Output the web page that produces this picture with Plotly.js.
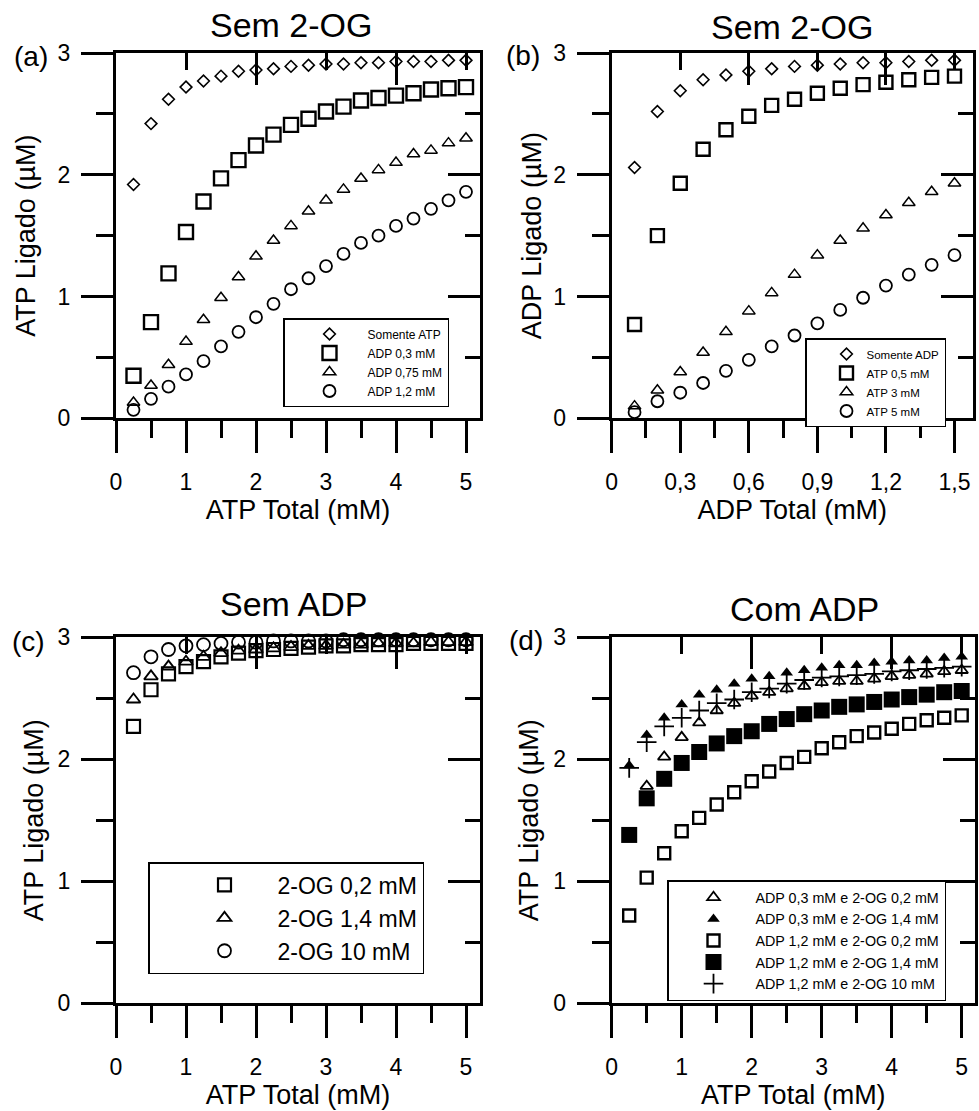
<!DOCTYPE html>
<html>
<head>
<meta charset="utf-8">
<script src="https://cdn.plot.ly/plotly-3.0.1.min.js"></script>
<style>html,body{margin:0;padding:0;background:#fff;}#chart{width:979px;height:1111px;}</style>
</head>
<body>
<div id="chart"></div>
<script>
// ---------- data ----------
const xATP = [0.25,0.5,0.75,1,1.25,1.5,1.75,2,2.25,2.5,2.75,3,3.25,3.5,3.75,4,4.25,4.5,4.75,5];
const xADP = [0.1,0.2,0.3,0.4,0.5,0.6,0.7,0.8,0.9,1.0,1.1,1.2,1.3,1.4,1.5];

// (a) Sem 2-OG : ATP ligado vs ATP total
const aNames = ["Somente ATP","ADP 0,3 mM","ADP 0,75 mM","ADP 1,2 mM"];
const aSomenteATP = [1.92,2.42,2.62,2.72,2.77,2.81,2.85,2.86,2.87,2.89,2.90,2.91,2.91,2.92,2.92,2.93,2.93,2.93,2.94,2.94];
const aADP03  = [0.35,0.79,1.19,1.53,1.78,1.97,2.12,2.24,2.33,2.41,2.46,2.52,2.56,2.61,2.63,2.65,2.67,2.70,2.71,2.72];
const aADP075 = [0.13,0.27,0.44,0.63,0.81,0.99,1.16,1.33,1.46,1.58,1.70,1.79,1.88,1.97,2.04,2.10,2.17,2.20,2.26,2.30];
const aADP12  = [0.07,0.16,0.26,0.36,0.47,0.59,0.71,0.83,0.94,1.06,1.15,1.25,1.35,1.44,1.50,1.58,1.64,1.72,1.79,1.86];

// (b) Sem 2-OG : ADP ligado vs ADP total
const bNames = ["Somente ADP","ATP 0,5 mM","ATP 3 mM","ATP 5 mM"];
const bSomenteADP = [2.06,2.52,2.69,2.78,2.82,2.85,2.87,2.89,2.90,2.91,2.92,2.92,2.93,2.94,2.94];
const bATP05 = [0.77,1.50,1.93,2.21,2.37,2.48,2.57,2.62,2.67,2.71,2.74,2.76,2.78,2.80,2.81];
const bATP3  = [0.10,0.23,0.38,0.54,0.71,0.88,1.03,1.18,1.34,1.46,1.56,1.67,1.77,1.86,1.93];
const bATP5  = [0.05,0.14,0.21,0.29,0.39,0.48,0.59,0.68,0.78,0.89,0.99,1.09,1.18,1.26,1.34];

// (c) Sem ADP
const cNames = ["2-OG 0,2 mM","2-OG 1,4 mM","2-OG 10 mM"];
const c2OG02 = [2.27,2.57,2.70,2.76,2.80,2.84,2.87,2.89,2.90,2.91,2.92,2.93,2.93,2.94,2.94,2.94,2.95,2.95,2.95,2.95];
const c2OG14 = [2.49,2.68,2.76,2.80,2.84,2.87,2.89,2.90,2.91,2.92,2.93,2.93,2.94,2.94,2.95,2.95,2.95,2.96,2.96,2.96];
const c2OG10 = [2.71,2.84,2.90,2.93,2.94,2.95,2.96,2.96,2.97,2.97,2.97,2.97,2.98,2.98,2.98,2.98,2.98,2.98,2.98,2.98];

// (d) Com ADP
const dNames = ["ADP 0,3 mM e 2-OG 0,2 mM","ADP 0,3 mM e 2-OG 1,4 mM","ADP 1,2 mM e 2-OG 0,2 mM","ADP 1,2 mM e 2-OG 1,4 mM","ADP 1,2 mM e 2-OG 10 mM"];
const dADP03_OG02 = [1.38,1.78,2.02,2.18,2.30,2.40,2.46,2.52,2.55,2.58,2.60,2.63,2.64,2.64,2.66,2.68,2.69,2.70,2.72,2.73];
const dADP03_OG14 = [1.95,2.20,2.34,2.45,2.53,2.57,2.62,2.66,2.68,2.71,2.73,2.75,2.77,2.77,2.79,2.80,2.81,2.81,2.83,2.84];
const dADP12_OG02 = [0.72,1.03,1.23,1.41,1.52,1.63,1.73,1.82,1.90,1.97,2.02,2.09,2.14,2.19,2.22,2.25,2.29,2.32,2.34,2.36];
const dADP12_OG14 = [1.38,1.68,1.84,1.97,2.06,2.13,2.19,2.23,2.29,2.33,2.37,2.40,2.43,2.45,2.47,2.49,2.51,2.53,2.55,2.56];
const dADP12_OG10 = [1.93,2.14,2.27,2.34,2.40,2.46,2.49,2.55,2.58,2.62,2.65,2.67,2.68,2.69,2.70,2.72,2.73,2.74,2.75,2.76];

const panelTitles = ["Sem 2-OG","Sem 2-OG","Sem ADP","Com ADP"];
const panelLetters = ["(a)","(b)","(c)","(d)"];
const xTitles = ["ATP Total (mM)","ADP Total (mM)","ATP Total (mM)","ATP Total (mM)"];
const yTitles = ["ATP Ligado (\u00b5M)","ADP Ligado (\u00b5M)","ATP Ligado (\u00b5M)","ATP Ligado (\u00b5M)"];

// ---------- style ----------
const FONT = "Liberation Sans, Arial, sans-serif";
const K = "#000";
function mk(sym, size, lw){
  return {symbol: sym, size: size, color: K, line:{color:K, width:lw}};
}
function tr(x, y, name, marker, xa, ya, leg){
  return {type:"scatter", mode:"markers", x:x, y:y, name:name, marker:marker,
          xaxis:xa, yaxis:ya, legend:leg, cliponaxis:false, hoverinfo:"skip"};
}

const data = [
  tr(xATP, aSomenteATP, aNames[0], mk("diamond-open",9,1.6), "x","y","legend"),
  tr(xATP, aADP03, aNames[1], mk("square-open",14,2.4), "x","y","legend"),
  tr(xATP, aADP075, aNames[2], mk("triangle-up-open",11,1.5), "x","y","legend"),
  tr(xATP, aADP12, aNames[3], mk("circle-open",12,1.8), "x","y","legend"),

  tr(xADP, bSomenteADP, bNames[0], mk("diamond-open",9,1.6), "x2","y2","legend2"),
  tr(xADP, bATP05, bNames[1], mk("square-open",13,2.4), "x2","y2","legend2"),
  tr(xADP, bATP3, bNames[2], mk("triangle-up-open",11,1.5), "x2","y2","legend2"),
  tr(xADP, bATP5, bNames[3], mk("circle-open",12,1.8), "x2","y2","legend2"),

  tr(xATP, c2OG02, cNames[0], mk("square-open",13,2.2), "x3","y3","legend3"),
  tr(xATP, c2OG14, cNames[1], mk("triangle-up-open",12,1.8), "x3","y3","legend3"),
  tr(xATP, c2OG10, cNames[2], mk("circle-open",13,1.8), "x3","y3","legend3"),

  tr(xATP, dADP03_OG02, dNames[0], mk("triangle-up-open",11,1.8), "x4","y4","legend4"),
  tr(xATP, dADP03_OG14, dNames[1], mk("triangle-up",11,0), "x4","y4","legend4"),
  tr(xATP, dADP12_OG02, dNames[2], mk("square-open",12,2.4), "x4","y4","legend4"),
  tr(xATP, dADP12_OG14, dNames[3], mk("square",16,0), "x4","y4","legend4"),
  tr(xATP, dADP12_OG10, dNames[4], mk("cross-thin-open",14,1.8), "x4","y4","legend4")
];

// helper empty traces so the mirrored (top / right) axes exist
for (let i = 1; i <= 4; i++){
  const s = i === 1 ? "" : String(i);
  data.push({type:"scatter", x:[], y:[], xaxis:"x"+(i+4), yaxis:"y"+s, showlegend:false, hoverinfo:"skip"});
  data.push({type:"scatter", x:[], y:[], xaxis:"x"+s, yaxis:"y"+(i+4), showlegend:false, hoverinfo:"skip"});
}

// panel geometry (paper fractions)
const W = 979, H = 1111;
const px = (v) => v / W, py = (v) => 1 - v / H;
const panels = [
  {xd:[px(116), px(480)], yd:[py(418.3), py(53)], xr:[0,5.2], dt:1, mdt:0.5, tdt:2, tmdt:1, yso:15},
  {xd:[px(611.7), px(973)], yd:[py(418.3), py(53)], xr:[0,1.581], dt:0.3, mdt:0.15, tdt:0.6, tmdt:0.3, yso:4},
  {xd:[px(116), px(480)], yd:[py(1003.3), py(637.3)], xr:[0,5.2], dt:1, mdt:0.5, tdt:2, tmdt:1, yso:7},
  {xd:[px(611.7), px(975)], yd:[py(1003.3), py(637.3)], xr:[0,5.19], dt:1, mdt:0.5, tdt:2, tmdt:1, yso:7}
];

const layout = {
  width: W, height: H,
  margin: {l:0, r:0, t:0, b:0, pad:0},
  paper_bgcolor: "#fff", plot_bgcolor: "#fff",
  font: {family: FONT, color: K, size: 23},
  separators: ",.",
  showlegend: true,
  annotations: []
};

panels.forEach((p, i) => {
  const s = i === 0 ? "" : String(i + 1);
  const ov = String(i + 5);
  layout["xaxis" + s] = {
    domain: p.xd, range: p.xr, anchor: "y" + s, autorange: false,
    showline: true, linewidth: 3, linecolor: K, mirror: false,
    ticks: "outside", ticklen: 32, tickwidth: 3, tickcolor: K,
    tick0: 0, dtick: p.dt, ticklabelstandoff: 9,
    minor: {ticks: "outside", ticklen: 17, tickwidth: 3, tickcolor: K, tick0: 0, dtick: p.mdt, showgrid: false},
    showgrid: false, zeroline: false,
    tickfont: {size: 23, family: FONT, color: K},
    title: {text: xTitles[i], font: {size: 27, family: FONT, color: K}, standoff: 7}
  };
  layout["yaxis" + s] = {
    domain: p.yd, range: [0, 3], anchor: "x" + s, autorange: false,
    showline: true, linewidth: 3, linecolor: K,
    ticks: "outside", ticklen: 32, tickwidth: 3, tickcolor: K,
    tick0: 0, dtick: 1, ticklabelstandoff: 6,
    minor: {ticks: "outside", ticklen: 17, tickwidth: 3, tickcolor: K, tick0: 0, dtick: 0.5, showgrid: false},
    showgrid: false, zeroline: false,
    tickfont: {size: 23, family: FONT, color: K},
    title: {text: yTitles[i], font: {size: 27, family: FONT, color: K}, standoff: p.yso}
  };
  // top mirror axis (ticks inside)
  layout["xaxis" + ov] = {
    overlaying: "x" + s, side: "top", anchor: "y" + s, range: p.xr, autorange: false,
    showline: true, linewidth: 3, linecolor: K,
    ticks: "inside", ticklen: 32, tickwidth: 3, tickcolor: K, tick0: 0, dtick: p.tdt,
    minor: {ticks: "inside", ticklen: 17, tickwidth: 3, tickcolor: K, tick0: 0, dtick: p.tmdt, showgrid: false},
    showticklabels: false, showgrid: false, zeroline: false
  };
  // right mirror axis (ticks inside)
  layout["yaxis" + ov] = {
    overlaying: "y" + s, side: "right", anchor: "x" + s, range: [0, 3], autorange: false,
    showline: true, linewidth: 3, linecolor: K,
    ticks: "inside", ticklen: 32, tickwidth: 3, tickcolor: K, tick0: 0, dtick: 1,
    minor: {ticks: "inside", ticklen: 15, tickwidth: 3, tickcolor: K, tick0: 0, dtick: 0.5, showgrid: false},
    showticklabels: false, showgrid: false, zeroline: false
  };
});

// titles and panel letters
const titlePos = [[291,25],[792,27],[293,604],[804,609]];
const letterPos = [[31,57],[523,56],[28,641],[526,640]];
panelTitles.forEach((t, i) => {
  layout.annotations.push({text: t, xref:"paper", yref:"paper", x: px(titlePos[i][0]), y: py(titlePos[i][1]),
    xanchor:"center", yanchor:"middle", showarrow:false, font:{size:34, family:FONT, color:K}});
  layout.annotations.push({text: panelLetters[i], xref:"paper", yref:"paper", x: px(letterPos[i][0]), y: py(letterPos[i][1]),
    xanchor:"center", yanchor:"middle", showarrow:false, font:{size:28, family:FONT, color:K}});
});

// legends
const legBase = {xref:"paper", yref:"paper", xanchor:"left", yanchor:"top", bgcolor:"#fff",
  bordercolor:K, borderwidth:1.5, itemclick:false, itemdoubleclick:false, tracegroupgap:0};
layout.legend  = Object.assign({}, legBase, {x: px(283), y: py(318), font:{size:12, family:FONT, color:K}, itemwidth: 66, indentation: 7});
layout.legend2 = Object.assign({}, legBase, {x: px(805), y: py(338), font:{size:11.5, family:FONT, color:K}, itemwidth: 30, indentation: 20});
layout.legend3 = Object.assign({}, legBase, {x: px(148), y: py(862), font:{size:23, family:FONT, color:K}, itemwidth: 96, indentation: 22});
layout.legend4 = Object.assign({}, legBase, {x: px(667), y: py(880), font:{size:14.3, family:FONT, color:K}, itemwidth: 74, indentation: 3});

Plotly.newPlot("chart", data, layout, {staticPlot: true, displayModeBar: false});
</script>
</body>
</html>
